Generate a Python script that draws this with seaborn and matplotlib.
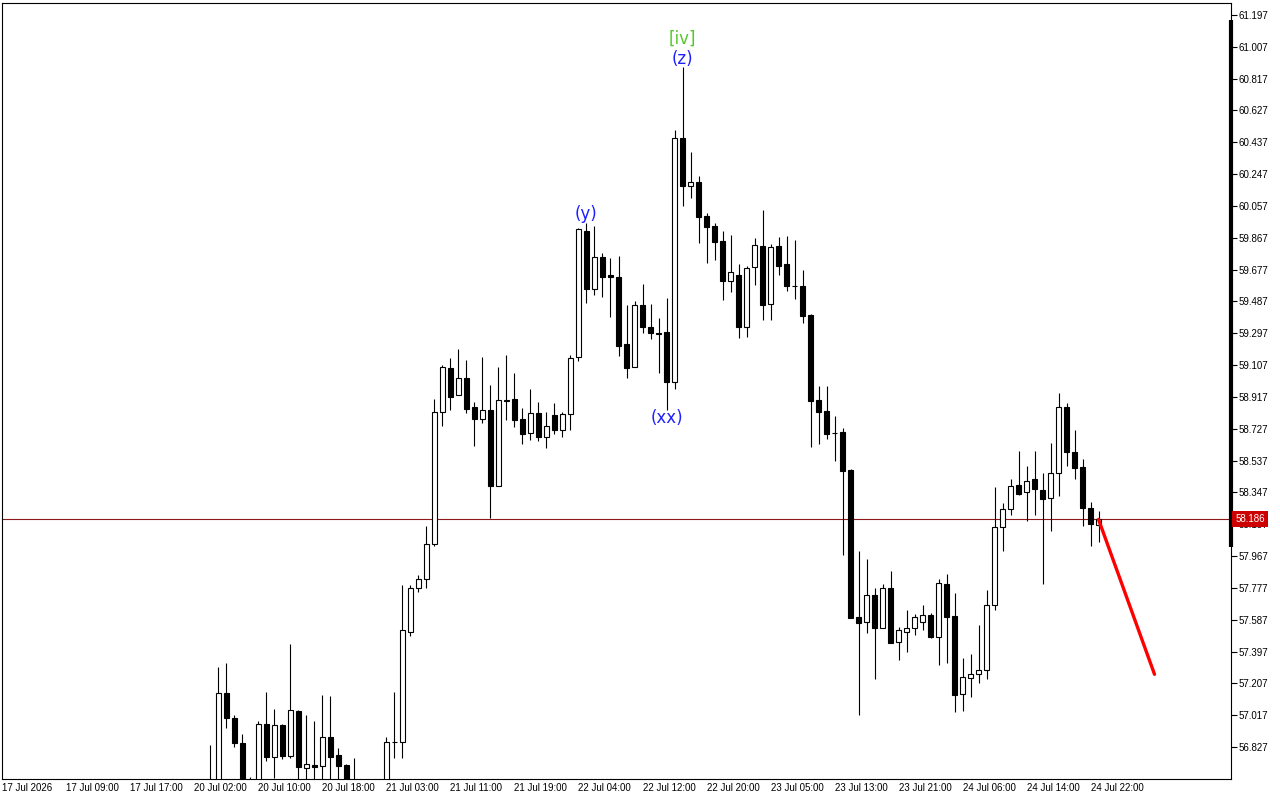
import numpy as np
import pandas as pd
import matplotlib
matplotlib.use("Agg")
import matplotlib.pyplot as plt
import matplotlib.transforms as mtransforms
import seaborn as sns

# ---------------- data (hourly bars, index 0 = first bar of the window) ----------------
first_bar = 26
nan = float("nan")
opens = [56.55, 56.58, 57.147, 56.998, 56.849, 56.62, 56.60, 56.963, 56.769, 56.957,
         56.775, 57.042, 56.700, 56.718, 56.716, 56.885, 56.778, 56.720, 56.62, nan,
         nan, nan, 56.60, 56.859, 56.859, 57.514, 57.775, 57.828, 58.037, 58.825,
         59.088, 58.927, 59.028, 58.855, 58.787, 58.837, 58.387, 58.897, 58.903, 58.784,
         58.700, 58.820, 58.680, 58.808, 58.722, 58.814, 59.157, 59.910, 59.560, 59.751,
         59.643, 59.631, 59.233, 59.094, 59.464, 59.333, 59.297, 59.303, 59.008, 60.461,
         60.178, 60.199, 59.997, 59.938, 59.848, 59.611, 59.645, 59.336, 59.695, 59.818,
         59.474, 59.818, 59.711, 59.580, 59.580, 59.406, 58.899, 58.833, 58.704, 58.706,
         58.481, 57.602, 57.575, 57.735, 57.540, 57.775, 57.452, 57.516, 57.540, 57.575,
         57.613, 57.486, 57.798, 57.609, 57.142, 57.237, 57.261, 57.285, 57.673, 58.139,
         58.246, 58.390, 58.348, 58.426, 58.362, 58.312, 58.461, 58.855, 58.587, 58.497,
         58.252, 58.153]
highs = [56.839, 57.306, 57.326, 57.018, 56.905, 56.650, 56.982, 57.157, 57.054, 56.965,
         57.442, 57.048, 57.018, 56.984, 57.138, 57.132, 56.821, 56.725, 56.760, nan,
         nan, nan, 56.885, 57.157, 57.794, 57.794, 57.854, 58.147, 58.905, 59.108,
         59.148, 59.202, 59.138, 58.887, 59.154, 58.989, 59.094, 59.168, 59.058, 58.849,
         58.963, 58.887, 58.827, 58.881, 58.827, 59.168, 59.926, 59.957, 59.938, 59.775,
         59.745, 59.759, 59.466, 59.490, 59.592, 59.472, 59.390, 59.510, 60.511, 60.889,
         60.378, 60.236, 60.017, 59.957, 59.908, 59.884, 59.711, 59.699, 59.864, 60.033,
         59.830, 59.874, 59.878, 59.854, 59.675, 59.412, 58.982, 58.982, 58.803, 58.732,
         58.485, 57.997, 57.950, 57.775, 57.800, 57.878, 57.542, 57.645, 57.621, 57.675,
         57.629, 57.828, 57.860, 57.745, 57.357, 57.381, 57.554, 57.765, 58.378, 58.286,
         58.427, 58.594, 58.505, 58.594, 58.461, 58.640, 58.939, 58.879, 58.720, 58.545,
         58.290, 58.236]
lows = [56.50, 56.52, 56.942, 56.825, 56.55, 56.52, 56.58, 56.744, 56.644, 56.754,
        56.760, 56.60, 56.60, 56.60, 56.60, 56.60, 56.60, 56.55, 56.55, nan,
        nan, nan, 56.55, 56.760, 56.760, 57.490, 57.753, 57.778, 58.029, 58.745,
        58.839, 58.927, 58.823, 58.626, 58.760, 58.196, 58.387, 58.780, 58.740, 58.638,
        58.662, 58.656, 58.614, 58.698, 58.680, 58.722, 59.134, 59.476, 59.526, 59.516,
        59.396, 59.163, 59.032, 59.094, 59.301, 59.261, 59.062, 58.839, 58.963, 60.059,
        60.107, 59.838, 59.715, 59.735, 59.496, 59.545, 59.271, 59.277, 59.585, 59.376,
        59.376, 59.645, 59.550, 59.504, 59.360, 58.620, 58.636, 58.666, 58.535, 57.974,
        57.595, 57.018, 57.510, 57.233, 57.540, 57.446, 57.347, 57.396, 57.498, 57.526,
        57.480, 57.317, 57.327, 57.038, 57.044, 57.127, 57.208, 57.231, 57.645, 57.997,
        58.212, 58.332, 58.178, 58.212, 57.798, 58.118, 58.328, 58.507, 58.429, 58.148,
        58.029, 58.053]
closes = [56.60, 57.147, 56.998, 56.849, 56.60, 56.58, 56.963, 56.769, 56.957, 56.775,
          57.046, 56.706, 56.724, 56.710, 56.885, 56.769, 56.716, 56.60, 56.60, nan,
          nan, nan, 56.855, 56.855, 57.526, 57.775, 57.828, 58.037, 58.825, 59.094,
          58.919, 59.028, 58.847, 58.784, 58.837, 58.387, 58.897, 58.893, 58.781, 58.698,
          58.820, 58.680, 58.742, 58.722, 58.814, 59.148, 59.918, 59.560, 59.751, 59.635,
          59.635, 59.223, 59.088, 59.464, 59.333, 59.297, 59.295, 59.005, 60.461, 60.178,
          60.202, 59.993, 59.934, 59.840, 59.611, 59.661, 59.336, 59.685, 59.822, 59.466,
          59.811, 59.701, 59.581, 59.578, 59.402, 58.895, 58.829, 58.696, 58.700, 58.477,
          57.599, 57.569, 57.735, 57.540, 57.775, 57.450, 57.524, 57.540, 57.602, 57.613,
          57.484, 57.805, 57.605, 57.139, 57.243, 57.261, 57.285, 57.673, 58.141, 58.246,
          58.384, 58.338, 58.414, 58.366, 58.306, 58.461, 58.855, 58.587, 58.495, 58.252,
          58.157, 58.186]

time_labels = ["17 Jul 2026", "17 Jul 09:00", "17 Jul 17:00", "20 Jul 02:00", "20 Jul 10:00",
               "20 Jul 18:00", "21 Jul 03:00", "21 Jul 11:00", "21 Jul 19:00", "22 Jul 04:00",
               "22 Jul 12:00", "22 Jul 20:00", "23 Jul 05:00", "23 Jul 13:00", "23 Jul 21:00",
               "24 Jul 06:00", "24 Jul 14:00", "24 Jul 22:00"]
price_ticks = [56.827, 57.017, 57.207, 57.397, 57.587, 57.777, 57.967, 58.157, 58.347,
               58.537, 58.727, 58.917, 59.107, 59.297, 59.487, 59.677, 59.867, 60.057,
               60.247, 60.437, 60.627, 60.817, 61.007, 61.197]
last_price = 58.186
proj_bars = [137, 144]
proj_prices = [58.186, 57.261]
wave_labels = ["[iv]", "(z)", "(y)", "(xx)"]
wave_bars = [85, 85, 73, 83]
wave_prices = [61.054, 60.935, 60.009, 58.791]

# ---------------- style ----------------
sns.set_style("white")
plt.rcParams["font.family"] = ["Liberation Sans", "DejaVu Sans"]
plt.rcParams["text.color"] = "black"
plt.rcParams["xtick.color"] = "black"
plt.rcParams["ytick.color"] = "black"

W, H = 1280, 800
fig = plt.figure(figsize=(W / 100, H / 100), dpi=100)
ax = fig.add_axes([2 / W, 21 / H, 1229 / W, 776 / H])
ax.set_facecolor("white")

df = pd.DataFrame({"open": opens, "high": highs, "low": lows, "close": closes})
df["bar"] = np.arange(first_bar, first_bar + len(df))
df = df.dropna()
up = df["close"] >= df["open"]

# wicks
ax.vlines(df["bar"], df["low"], df["high"], color="black", linewidth=0.8, zorder=2)
# bodies
body_bottom = np.minimum(df["open"], df["close"])
body_height = np.maximum(np.abs(df["close"] - df["open"]), 0.0001)
ax.bar(df["bar"][up], body_height[up], bottom=body_bottom[up], width=0.62,
       color="white", edgecolor="black", linewidth=0.8, zorder=3)
ax.bar(df["bar"][~up], body_height[~up], bottom=body_bottom[~up], width=0.62,
       color="black", edgecolor="black", linewidth=0.8, zorder=3)

# current price line
ax.axhline(last_price, color="#8c1a1a", linewidth=0.8, zorder=1)

# projection line
sns.lineplot(x=proj_bars, y=proj_prices, color="#ff0000", linewidth=2.4, ax=ax,
             zorder=4, legend=False)

# wave labels
wave_colors = ["#55c72a", "#1e1eff", "#1e1eff", "#1e1eff"]
for lab, b, p, c in zip(wave_labels, wave_bars, wave_prices, wave_colors):
    ax.text(b, p, lab, color=c, fontsize=12, ha="center", va="center",
            family="DejaVu Sans", zorder=5)

# axes limits
ax.set_xlim(-0.06, 153.56)
ax.set_ylim(56.636, 61.2686)

# ticks
ax.yaxis.tick_right()
ax.set_yticks(price_ticks)
ax.set_yticklabels([f"{t:.3f}" for t in price_ticks])
ax.set_xticks(np.arange(0, 8 * len(time_labels), 8))
ax.set_xticklabels(time_labels, ha="left")
ax.tick_params(axis="both", direction="out", length=4, width=0.8, labelsize=7,
               colors="black")
ax.tick_params(axis="y", pad=1.5)
ax.tick_params(axis="x", pad=0, length=3)
for s in ax.spines.values():
    s.set_color("black")
    s.set_linewidth(0.8)
    s.set_visible(True)

# price box on the right axis (covers part of the 58.157 label, as in the source)
tr = mtransforms.blended_transform_factory(ax.transAxes, ax.transData)
ax.text(1.0035, last_price, f"{last_price:.3f}", transform=tr, ha="left", va="center",
        color="white", fontsize=7, clip_on=False, zorder=10,
        bbox=dict(boxstyle="square,pad=0.3", fc="#cc0000", ec="none"))
# thick scale bar on the right edge
ax.plot([1.0, 1.0], [58.021, 61.168], transform=tr, color="black", linewidth=3,
        solid_capstyle="butt", clip_on=False, zorder=9)

fig.savefig("out.png", dpi=100)
